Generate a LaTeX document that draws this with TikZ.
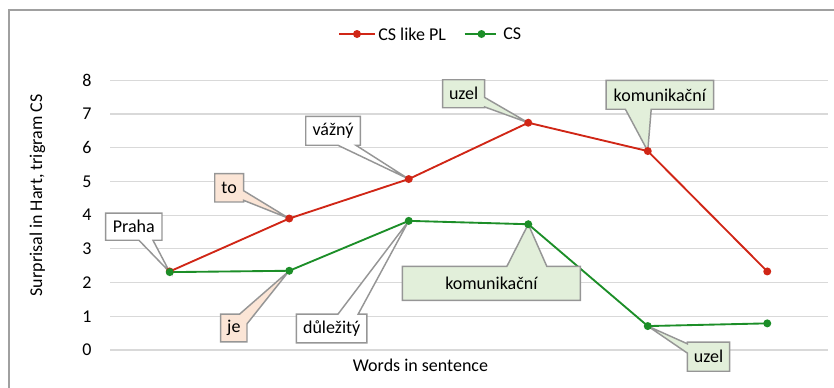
\documentclass[tikz,border=0pt]{standalone}
\usepackage{fontspec}
\setmainfont{Carlito}
\usetikzlibrary{calc}
\pgfdeclarelayer{bg}
\pgfdeclarelayer{ln}
\pgfdeclarelayer{co}
\pgfsetlayers{bg,ln,co,main}
\definecolor{sred}{RGB}{208,38,22}
\definecolor{sgreen}{RGB}{28,142,40}
\definecolor{cgray}{RGB}{150,150,150}
\definecolor{gridc}{RGB}{217,217,217}
\definecolor{framec}{RGB}{160,160,160}
\definecolor{peach}{RGB}{251,229,214}
\definecolor{lgreen}{RGB}{226,239,218}
\begin{document}
\begin{tikzpicture}[x=0.75pt,y=-0.75pt,
  font=\fontsize{13.5}{16}\selectfont,
  mk/.style={circle,inner sep=0pt,minimum size=6pt},
  rmk/.style={mk,fill=sred},
  gmk/.style={mk,fill=sgreen},
  rline/.style={draw=sred,line width=1.4pt},
  gline/.style={draw=sgreen,line width=1.4pt},
  gridl/.style={draw=gridc,line width=0.9pt},
  cbox/.style={inner sep=0pt,text=black},
  co/.style={draw=cgray,line width=1.1pt,line join=miter},
  tick/.style={inner sep=0pt}]
\useasboundingbox (0,0) rectangle (834,387);

% frame
\begin{pgfonlayer}{bg}
\draw[draw=framec,line width=1.1pt] (9,390) -- (9,10) -- (836,10);
\foreach \v in {0,...,8}{
  \draw[gridl] (110,{350-33.72*\v}) -- (827.5,{350-33.72*\v});
}
\end{pgfonlayer}

% tick labels
\foreach \v in {0,...,8}{
  \node[tick] (t\v) at (87,{350-33.72*\v}) {\v};
}

% axis titles
\node[rotate=90] (ytitle) at (37.5,195.5) {Surprisal in Hart, trigram CS};
\node (xtitle) at (420.5,365.5) {Words in sentence};

% legend
\coordinate (lr1) at (339,34);
\coordinate (lr2) at (375,34);
\node[rmk] (lrm) at (357,34) {};
\node[anchor=west,inner sep=0pt] (lrt) at (378,34) {CS like PL};
\coordinate (lg1) at (464.5,34);
\coordinate (lg2) at (496,34);
\node[gmk] (lgm) at (481.5,34) {};
\node[anchor=west,inner sep=0pt] (lgt) at (503,34) {CS};
\begin{pgfonlayer}{ln}
\draw[rline] (lr1) -- (lr2);
\draw[gline] (lg1) -- (lg2);
\end{pgfonlayer}

% data
\begin{scope}[shift={(50.25,350)},x=89.625pt,y=25.29pt]
\node[rmk] (r1) at (1,2.33) {};
\node[rmk] (r2) at (2,3.90) {};
\node[rmk] (r3) at (3,5.07) {};
\node[rmk] (r4) at (4,6.74) {};
\node[rmk] (r5) at (5,5.90) {};
\node[rmk] (r6) at (6,2.33) {};
\node[gmk] (g1) at (1,2.31) {};
\node[gmk] (g2) at (2,2.35) {};
\node[gmk] (g3) at (3,3.83) {};
\node[gmk] (g4) at (4,3.73) {};
\node[gmk] (g5) at (5,0.71) {};
\node[gmk] (g6) at (6,0.79) {};
\end{scope}
\begin{pgfonlayer}{ln}
\draw[rline] (r1.center) -- (r2.center) -- (r3.center) -- (r4.center) -- (r5.center) -- (r6.center);
\draw[gline] (g1.center) -- (g2.center) -- (g3.center) -- (g4.center) -- (g5.center) -- (g6.center);
\end{pgfonlayer}

% callout boxes
\node[cbox,minimum width=41.8pt,minimum height=20pt] (praha) at (133.85,226.65) {Praha};
\node[cbox,minimum width=21.2pt,minimum height=20.8pt] (to) at (229.15,187.85) {to};
\node[cbox,minimum width=40.5pt,minimum height=21.2pt] (vazny) at (333,130.85) {vážný};
\node[cbox,minimum width=31pt,minimum height=20.6pt] (uzelr) at (463.65,93.75) {uzel};
\node[cbox,minimum width=80.25pt,minimum height=21.2pt] (komr) at (659.8,94.85) {komunikační};
\node[cbox,minimum width=133pt,minimum height=25pt] (komg) at (491.35,283.35) {komunikační};
\node[cbox,minimum width=31.2pt,minimum height=21.5pt] (uzelg) at (708.5,356.65) {uzel};
\node[cbox,minimum width=19.3pt,minimum height=20.5pt] (je) at (233.85,328) {je};
\node[cbox,minimum width=52.5pt,minimum height=21.3pt] (dul) at (331.7,328.5) {důležitý};

\begin{pgfonlayer}{co}
% Praha: bottom pointer
\path[co,fill=white] (praha.north west) -- (praha.north east) -- (praha.south east)
  -- ($(praha.south west)!0.84!(praha.south east)$) -- (g1.center)
  -- ($(praha.south west)!0.59!(praha.south east)$) -- (praha.south west) -- cycle;
% to: right pointer
\path[co,fill=peach] (to.north west) -- (to.north east)
  -- ($(to.north east)!0.6!(to.south east)$) -- (r2.center)
  -- ($(to.north east)!0.94!(to.south east)$) -- (to.south east) -- (to.south west) -- cycle;
% vazny: bottom pointer
\path[co,fill=white] (vazny.north west) -- (vazny.north east) -- (vazny.south east)
  -- ($(vazny.south west)!0.92!(vazny.south east)$) -- (r3.center)
  -- ($(vazny.south west)!0.59!(vazny.south east)$) -- (vazny.south west) -- cycle;
% uzel red: right pointer
\path[co,fill=lgreen] (uzelr.north west) -- (uzelr.north east)
  -- ($(uzelr.north east)!0.63!(uzelr.south east)$) -- (r4.center)
  -- ($(uzelr.north east)!0.97!(uzelr.south east)$) -- (uzelr.south east) -- (uzelr.south west) -- cycle;
% komunikacni red: bottom pointer
\path[co,fill=lgreen] (komr.north west) -- (komr.north east) -- (komr.south east)
  -- ($(komr.south west)!0.42!(komr.south east)$) -- (r5.center)
  -- ($(komr.south west)!0.18!(komr.south east)$) -- (komr.south west) -- cycle;
% komunikacni green: top pointer
\path[co,fill=lgreen] (komg.north west)
  -- ($(komg.north west)!0.587!(komg.north east)$) -- (g4.center)
  -- ($(komg.north west)!0.812!(komg.north east)$) -- (komg.north east)
  -- (komg.south east) -- (komg.south west) -- cycle;
% uzel green: left pointer
\path[co,fill=lgreen] (uzelg.north west) -- (uzelg.north east) -- (uzelg.south east) -- (uzelg.south west)
  -- ($(uzelg.north west)!0.38!(uzelg.south west)$) -- (g5.center)
  -- ($(uzelg.north west)!0.06!(uzelg.south west)$) -- cycle;
% je: corner pointer
\path[co,fill=peach] (je.north west)
  -- ($(je.north west)!0.72!(je.north east)$) -- (g2.center)
  -- ($(je.north east)!0.35!(je.south east)$) -- (je.south east) -- (je.south west) -- cycle;
% dulezity: top pointer
\path[co,fill=white] (dul.north west)
  -- ($(dul.north west)!0.59!(dul.north east)$) -- (g3.center)
  -- ($(dul.north west)!0.876!(dul.north east)$) -- (dul.north east)
  -- (dul.south east) -- (dul.south west) -- cycle;
\end{pgfonlayer}
\end{tikzpicture}
\end{document}
